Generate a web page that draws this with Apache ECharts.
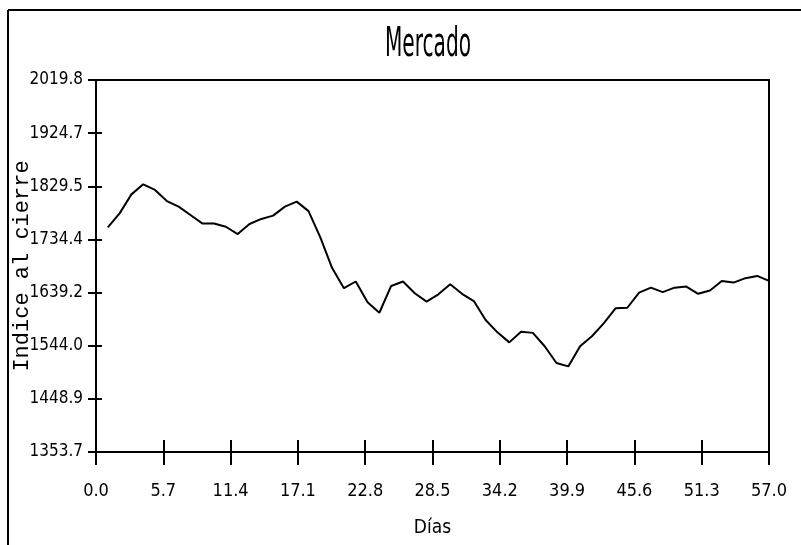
<!DOCTYPE html>
<html>
<head>
<meta charset="utf-8">
<script src="https://cdn.jsdelivr.net/npm/echarts@6/dist/echarts.min.js"></script>
<style>
  html, body { margin: 0; padding: 0; background: #fff; }
  #chart { width: 801px; height: 545px; }
</style>
</head>
<body>
<div id="chart"></div>
<script>
  // días y valores del índice
  var DAYS = [1, 2, 3, 4, 5, 6, 7, 8, 9, 10, 11, 12, 13, 14, 15, 16, 17, 18, 19, 20,
    21, 22, 23, 24, 25, 26, 27, 28, 29, 30, 31, 32, 33, 34, 35, 36, 37, 38, 39, 40,
    41, 42, 43, 44, 45, 46, 47, 48, 49, 50, 51, 52, 53, 54, 55, 56, 57];
  var INDICE = [1756, 1781, 1815, 1833, 1823, 1803, 1793, 1778, 1763, 1763,
    1757, 1744, 1762, 1771, 1777, 1793, 1802, 1785, 1738, 1683,
    1647, 1659, 1622, 1603, 1651, 1659, 1638, 1623, 1636, 1654,
    1637, 1624, 1590, 1568, 1550, 1569, 1567, 1543, 1513, 1507,
    1543, 1561, 1584, 1611, 1612, 1639, 1648, 1640, 1648, 1650,
    1637, 1643, 1660, 1657, 1665, 1669, 1660];
  var X_TICKS = [0.0, 5.7, 11.4, 17.1, 22.8, 28.5, 34.2, 39.9, 45.6, 51.3, 57.0];
  var Y_TICKS = [1353.7, 1448.9, 1544.0, 1639.2, 1734.4, 1829.5, 1924.7, 2019.8];

  var LABEL_FONT = "'DejaVu Sans Condensed', sans-serif";
  var MONO_FONT = "'Liberation Mono', 'DejaVu Sans Mono', monospace";

  var points = DAYS.map(function(d, i) { return [d, INDICE[i]]; });

  var chart = echarts.init(document.getElementById('chart'));

  function fmt(v) { return Number(v).toFixed(1); }

  var tickStyle = { color: '#000', width: 2 };

  chart.setOption({
    animation: false,
    backgroundColor: '#fff',
    grid: {
      left: 96, right: 32, top: 80, bottom: 93,
      containLabel: false, outerBoundsMode: 'none',
      show: true, borderColor: '#000', borderWidth: 2, backgroundColor: 'transparent'
    },
    xAxis: [
      {
        type: 'value', min: 0, max: 57, position: 'bottom',
        name: 'Días', nameLocation: 'middle', nameGap: 67, nameMoveOverlap: false,
        nameTextStyle: { fontFamily: LABEL_FONT, fontSize: 19, color: '#000' },
        axisLine: { show: true, lineStyle: { color: '#000', width: 2 } },
        axisTick: { show: true, length: 13, customValues: X_TICKS, lineStyle: tickStyle },
        axisLabel: {
          customValues: X_TICKS, margin: 30, formatter: fmt,
          fontFamily: LABEL_FONT, fontSize: 18, color: '#000'
        },
        splitLine: { show: false }
      },
      {
        type: 'value', min: 0, max: 57, position: 'bottom', offset: 0,
        axisLine: { show: false },
        axisTick: { show: true, inside: true, length: 12, customValues: X_TICKS, lineStyle: tickStyle },
        axisLabel: { show: false },
        splitLine: { show: false }
      }
    ],
    yAxis: [
      {
        type: 'value', min: 1353.7, max: 2019.8, position: 'left',
        name: 'Indice al cierre', nameLocation: 'middle', nameGap: 63, nameRotate: 90,
        nameMoveOverlap: false,
        nameTextStyle: { fontFamily: MONO_FONT, fontSize: 22, color: '#000' },
        axisLine: { show: true, lineStyle: { color: '#000', width: 2 } },
        axisTick: { show: true, length: 8, customValues: Y_TICKS, lineStyle: tickStyle },
        axisLabel: {
          customValues: Y_TICKS, margin: 13, formatter: fmt,
          fontFamily: LABEL_FONT, fontSize: 17, color: '#000'
        },
        splitLine: { show: false }
      },
      {
        type: 'value', min: 1353.7, max: 2019.8, position: 'left', offset: 0,
        axisLine: { show: false },
        axisTick: { show: true, inside: true, length: 6, customValues: Y_TICKS, lineStyle: tickStyle },
        axisLabel: { show: false },
        splitLine: { show: false }
      }
    ],
    graphic: [
      { type: 'line', shape: { x1: 8, y1: 10, x2: 8, y2: 545 }, style: { stroke: '#000', lineWidth: 2 } },
      { type: 'line', shape: { x1: 8, y1: 10, x2: 801, y2: 10 }, style: { stroke: '#000', lineWidth: 2 } },
      {
        // título estrecho
        type: 'text', x: 428, y: 66, scaleX: 0.56, scaleY: 1,
        style: {
          text: 'Mercado', fill: '#000', align: 'center', verticalAlign: 'bottom',
          font: "normal 40px 'DejaVu Sans Condensed', sans-serif"
        }
      }
    ],
    series: [
      {
        type: 'line',
        xAxisIndex: 0,
        yAxisIndex: 0,
        data: points,
        showSymbol: false,
        lineStyle: { color: '#000', width: 2 }
      }
    ]
  });

  window.addEventListener('resize', function() { chart.resize(); });
</script>
</body>
</html>
